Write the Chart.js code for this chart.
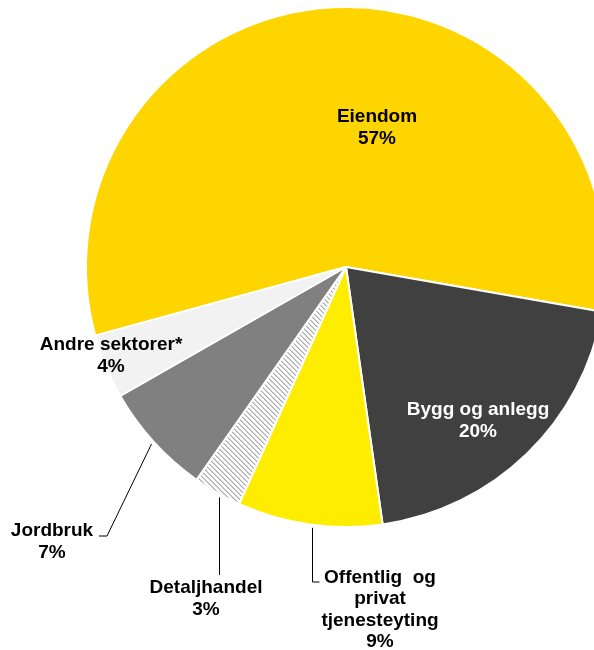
<!DOCTYPE html>
<html>
<head>
<meta charset="utf-8">
<script src="https://cdn.jsdelivr.net/npm/chart.js@4.4.1/dist/chart.umd.min.js"></script>
<style>
  html, body { margin: 0; padding: 0; background: #fff; overflow: hidden; }
  #wrap { position: relative; width: 620px; height: 650px; }
</style>
</head>
<body>
<div id="wrap"><canvas id="pie" width="620" height="650"></canvas></div>
<script>
// Sektorfordeling (prosent)
const sectors = ["Eiendom", "Bygg og anlegg", "Offentlig og privat tjenesteyting", "Detaljhandel", "Jordbruk", "Andre sektorer*"];
const shares = [57, 20, 9, 3, 7, 4];
const labelLines = [
    ["Eiendom", "57%"],
    ["Bygg og anlegg", "20%"],
    ["Offentlig  og", "privat", "tjenesteyting", "9%"],
    ["Detaljhandel", "3%"],
    ["Jordbruk", "7%"],
    ["Andre sektorer*", "4%"],
];

// hatched fill for the small retail slice
function hatchPattern() {
    const n = 5;
    const c = document.createElement("canvas");
    c.width = n;
    c.height = n;
    const g = c.getContext("2d");
    g.fillStyle = "#ffffff";
    g.fillRect(0, 0, n, n);
    for (let i = 0; i < n; i++) {
        g.fillStyle = "#a8a8a8";
        g.fillRect(i, i, 1, 1);
        g.fillStyle = "#d4d4d4";
        g.fillRect((i + 1) % n, i, 1, 1);
    }
    return g.createPattern(c, "repeat");
}

const ctx = document.getElementById("pie").getContext("2d");
const colors = ["#FFD500", "#404040", "#FFED00", hatchPattern(), "#808080", "#F2F2F2"];

// label block centre (offset from pie centre), text colour, leader path.
// leader points: [dx, dy] from pie centre; dx null keeps the line vertical.
// nudge moves the leader's start sideways along the rim
const labelLayout = [
    { dx: 31, dy: -139, color: "#000" },
    { dx: 132, dy: 154, color: "#fff" },
    { dx: 34, dy: 343, color: "#000", nudge: 3, leader: [[null, 315], [7, 0]] },
    { dx: -140, dy: 332, color: "#000", nudge: 4, leader: [[null, 308]] },
    { dx: -294, dy: 275, color: "#000", leader: [[-239, 269], [-8, 0]] },
    { dx: -235, dy: 89, color: "#000" },
];

const sliceLabels = {
    id: "sliceLabels",
    afterDatasetsDraw(chart) {
        const meta = chart.getDatasetMeta(0);
        const c = chart.ctx;
        c.save();
        c.font = "bold 19px 'Liberation Sans', Arial, sans-serif";
        c.textAlign = "center";
        c.textBaseline = "middle";
        meta.data.forEach((arc, i) => {
            const { x, y, startAngle, endAngle, outerRadius } = arc.getProps(
                ["x", "y", "startAngle", "endAngle", "outerRadius"], true);
            const layout = labelLayout[i];
            if (layout.leader) {
                const r = outerRadius + 3;
                const mid = (startAngle + endAngle) / 2 - (layout.nudge || 0) / r;
                let px = Math.round(x + Math.cos(mid) * r) + 0.5;
                let py = y + Math.sin(mid) * r;
                c.beginPath();
                c.moveTo(px, py);
                layout.leader.forEach(([lx, ly], k) => {
                    if (k === 0) {
                        px = lx === null ? px : x + lx;
                        py = y + ly;
                    } else {
                        px += lx;
                        py += ly;
                    }
                    c.lineTo(px, py);
                });
                c.strokeStyle = "#000";
                c.lineWidth = 1;
                c.stroke();
            }
            const lines = labelLines[i];
            const lh = 21.5;
            const top = y + layout.dy - (lines.length - 1) * lh / 2;
            c.fillStyle = layout.color;
            lines.forEach((t, k) => c.fillText(t, x + layout.dx, top + k * lh));
        });
        c.restore();
    },
};

new Chart(ctx, {
    type: "pie",
    data: {
        labels: sectors,
        datasets: [
            {
                data: shares,
                backgroundColor: colors,
                borderColor: "#ffffff",
                borderWidth: 2,
            },
        ],
    },
    options: {
        responsive: false,
        animation: false,
        rotation: -105.3,
        layout: { padding: { left: 85, top: 6, right: 13, bottom: 122 } },
        plugins: {
            legend: { display: false },
            tooltip: { enabled: false },
        },
    },
    plugins: [sliceLabels],
});
</script>
</body>
</html>
